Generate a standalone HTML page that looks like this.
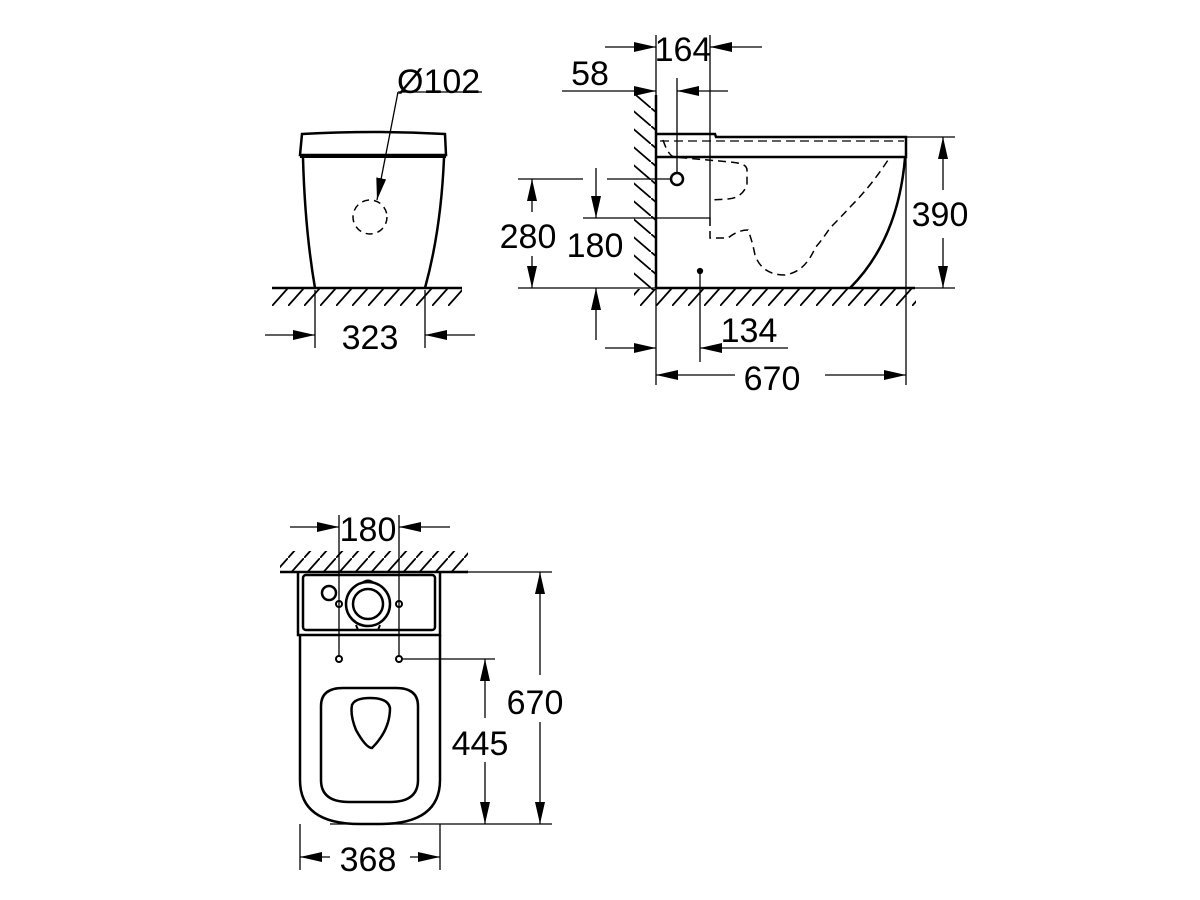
<!DOCTYPE html>
<html><head><meta charset="utf-8"><style>
html,body{margin:0;padding:0;background:#fff;}
svg{display:block;}
text{font-family:"Liberation Sans",sans-serif;font-size:34px;fill:#000;}
</style></head><body>
<svg width="1200" height="900" viewBox="0 0 1200 900" xmlns="http://www.w3.org/2000/svg">
<defs>
<marker id="a" viewBox="0 0 22 10" refX="22" refY="5" markerWidth="22" markerHeight="10" markerUnits="userSpaceOnUse" orient="auto"><path d="M0,0 L22,5 L0,10 z" fill="#000"/></marker>
<pattern id="hf" width="16" height="18" patternUnits="userSpaceOnUse"><path d="M0,18 L16,0" stroke="#000" stroke-width="1.8"/></pattern>
<pattern id="hw" width="21" height="18" patternUnits="userSpaceOnUse"><path d="M0,0 L21,18" stroke="#000" stroke-width="1.8"/></pattern>
</defs>
<g fill="none" stroke="#000" stroke-width="1.3">

<!-- FRONT VIEW -->
<rect x="272" y="289" width="190" height="17" fill="url(#hf)" stroke="none"/>
<line x1="272" y1="288" x2="462" y2="288" stroke-width="2.5"/>
<path d="M302,134 Q373,130 445,134 L446,155 L300,155 Z" stroke-width="2.5"/>
<line x1="300" y1="157" x2="446" y2="157" stroke-width="2"/>
<path d="M303,158 Q305,230 315,288" stroke-width="2.5"/>
<path d="M444,158 Q441,230 425,288" stroke-width="2.5"/>
<circle cx="370" cy="217" r="17" stroke-dasharray="7,5" stroke-width="1.5"/>
<line x1="482" y1="92" x2="398" y2="92"/>
<line x1="398" y1="92" x2="377" y2="200" marker-end="url(#a)"/>
<line x1="315" y1="290" x2="315" y2="348"/>
<line x1="425" y1="290" x2="425" y2="348"/>
<line x1="265" y1="335" x2="315" y2="335" marker-end="url(#a)"/>
<line x1="475" y1="335" x2="425" y2="335" marker-end="url(#a)"/>

<!-- SIDE VIEW -->
<rect x="634" y="95" width="21" height="195" fill="url(#hw)" stroke="none"/>
<rect x="634" y="289" width="282" height="17" fill="url(#hf)" stroke="none"/>
<line x1="656" y1="95" x2="656" y2="288" stroke-width="2.5"/>
<line x1="656" y1="288" x2="915" y2="288" stroke-width="2.5"/>
<line x1="656" y1="35" x2="656" y2="385"/>
<path d="M656,134 L715,134 L716,137 L906,137 L906,157 L656,157" stroke-width="2.5"/>
<line x1="660" y1="141" x2="904" y2="141" stroke-dasharray="9,5"/>
<path d="M905,158 Q898,240 850,288" stroke-width="2.5"/>
<path d="M663,140 Q668,155 674,157 L730,162 Q747,163 747,170 L747,185 Q742,198 728,199 L711,200" stroke-dasharray="8,5" stroke-width="1.5"/>
<path d="M710,218 L710,238 L728,238 Q738,230 748,230 Q752,240 755,255 Q762,275 785,275 Q805,272 815,248 Q822,240 830,228 Q840,218 852,205 Q872,185 890,157" stroke-dasharray="8,5" stroke-width="1.5"/>
<line x1="710" y1="35" x2="710" y2="218"/>
<line x1="583" y1="218" x2="710" y2="218"/>
<circle cx="677" cy="179" r="6" stroke-width="2.5"/>
<line x1="677" y1="78" x2="677" y2="173"/>
<line x1="607" y1="179" x2="671" y2="179"/>
<line x1="518" y1="179" x2="583" y2="179"/>
<line x1="518" y1="288" x2="656" y2="288"/>
<circle cx="700" cy="271" r="2.5" fill="#000"/>
<line x1="700" y1="271" x2="700" y2="362"/>
<line x1="906" y1="137" x2="906" y2="385"/>
<line x1="906" y1="137" x2="955" y2="137"/>
<line x1="915" y1="288" x2="955" y2="288"/>
<line x1="605" y1="47" x2="656" y2="47" marker-end="url(#a)"/>
<line x1="762" y1="47" x2="710" y2="47" marker-end="url(#a)"/>
<line x1="562" y1="91" x2="656" y2="91" marker-end="url(#a)"/>
<line x1="728" y1="91" x2="677" y2="91" marker-end="url(#a)"/>
<line x1="532" y1="212" x2="532" y2="179" marker-end="url(#a)"/>
<line x1="532" y1="256" x2="532" y2="288" marker-end="url(#a)"/>
<line x1="596" y1="168" x2="596" y2="218" marker-end="url(#a)"/>
<line x1="596" y1="340" x2="596" y2="288" marker-end="url(#a)"/>
<line x1="943" y1="190" x2="943" y2="137" marker-end="url(#a)"/>
<line x1="943" y1="238" x2="943" y2="288" marker-end="url(#a)"/>
<line x1="605" y1="348" x2="656" y2="348" marker-end="url(#a)"/>
<line x1="788" y1="348" x2="700" y2="348" marker-end="url(#a)"/>
<line x1="735" y1="375" x2="656" y2="375" marker-end="url(#a)"/>
<line x1="825" y1="375" x2="906" y2="375" marker-end="url(#a)"/>

<!-- TOP VIEW -->
<rect x="280" y="551" width="188" height="20" fill="url(#hf)" stroke="none"/>
<line x1="280" y1="572" x2="468" y2="572" stroke-width="2.5"/>
<path d="M298,572 L298,635 L440,635 L440,572" stroke-width="2.5"/>
<rect x="303" y="575" width="132" height="55" rx="3" stroke-width="2.5"/>
<path d="M300,635 L300,780 Q300,824 360,824 L380,824 Q440,824 440,780 L440,635" stroke-width="2.5"/>
<path d="M321,706 Q321,688 343,688 L396,688 Q418,688 418,706 L418,780 Q418,802 390,802 L349,802 Q321,802 321,780 Z" stroke-width="2.5"/>
<path d="M352,705 Q355,698 370,698 Q388,698 390,708 Q390,730 372,748 Q366,748 356,730 Q350,715 352,705 Z" stroke-width="2.5"/>
<circle cx="368" cy="604" r="22" stroke-width="2.5"/>
<circle cx="368" cy="604" r="15" stroke-width="2.5"/>
<path d="M362,583 Q368,578 374,583" stroke-width="2"/>
<path d="M356,625 L358,630 L378,630 L380,625" stroke-width="2"/>
<circle cx="329" cy="593" r="7" stroke-width="2.5"/>
<circle cx="339" cy="604" r="3" stroke-width="2"/>
<circle cx="399" cy="604" r="3" stroke-width="2"/>
<circle cx="339" cy="659" r="3" stroke-width="2"/>
<circle cx="399" cy="659" r="3" stroke-width="2"/>
<line x1="339" y1="515" x2="339" y2="656"/>
<line x1="399" y1="515" x2="399" y2="656"/>
<line x1="402" y1="659" x2="495" y2="659"/>
<line x1="440" y1="572" x2="552" y2="572"/>
<line x1="330" y1="824" x2="552" y2="824"/>
<line x1="300" y1="824" x2="300" y2="870"/>
<line x1="440" y1="824" x2="440" y2="870"/>
<line x1="290" y1="527" x2="339" y2="527" marker-end="url(#a)"/>
<line x1="450" y1="527" x2="399" y2="527" marker-end="url(#a)"/>
<line x1="485" y1="718" x2="485" y2="659" marker-end="url(#a)"/>
<line x1="485" y1="762" x2="485" y2="824" marker-end="url(#a)"/>
<line x1="540" y1="675" x2="540" y2="572" marker-end="url(#a)"/>
<line x1="540" y1="722" x2="540" y2="824" marker-end="url(#a)"/>
<line x1="330" y1="857" x2="300" y2="857" marker-end="url(#a)"/>
<line x1="410" y1="857" x2="440" y2="857" marker-end="url(#a)"/>
</g>

<g>
<text x="397" y="93">Ø102</text>
<text x="370" y="349" text-anchor="middle">323</text>
<text x="683" y="61" text-anchor="middle">164</text>
<text x="590" y="85" text-anchor="middle">58</text>
<text x="528" y="248" text-anchor="middle">280</text>
<text x="595" y="257" text-anchor="middle">180</text>
<text x="940" y="226" text-anchor="middle">390</text>
<text x="749" y="342" text-anchor="middle">134</text>
<text x="772" y="390" text-anchor="middle">670</text>
<text x="368" y="541" text-anchor="middle">180</text>
<text x="480" y="755" text-anchor="middle">445</text>
<text x="535" y="714" text-anchor="middle">670</text>
<text x="368" y="871" text-anchor="middle">368</text>
</g>
</svg>
</body></html>
